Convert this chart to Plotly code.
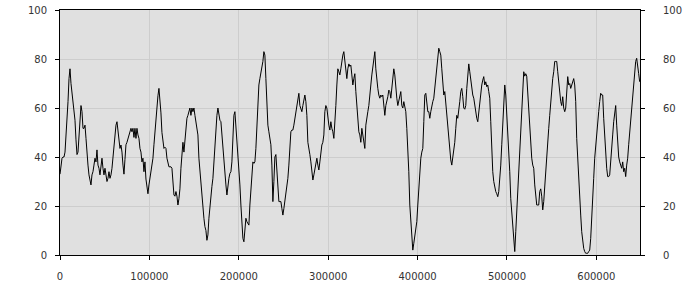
import plotly.graph_objects as go

# sample spacing along the x axis (one reading per ~1118 units)
sample_step = 1118

values = [
    33, 37, 39.5, 40, 40, 42, 47.6, 54, 62.6, 72, 76, 70, 66, 64, 61, 55, 47, 41, 42, 48,
    55, 61, 58.5, 51.7, 51.7, 53, 47.6, 40.8, 36.7, 32.7, 30.6, 28.6, 32.7, 34, 36.7, 39.5, 38, 42.9, 36.7, 35.4,
    32.7, 38, 39.5, 35.4, 32.7, 35.4, 32.7, 30, 31.3, 34, 31.3, 32.7, 35.4, 39.5, 43.5, 50, 53, 54.4, 50.3, 46,
    43.5, 44.9, 42, 36.7, 33, 39, 45, 46, 47.6, 49, 50, 51.7, 50.3, 51.7, 48, 51.7, 47.6, 51.7, 49, 47.6,
    43.5, 42, 38, 39.5, 34, 38, 31, 27, 25, 28.6, 31.3, 34.7, 38, 39.5, 45, 50, 57, 61, 65, 68,
    64, 58, 50, 47, 43.5, 44, 43.5, 39.5, 37.4, 36, 36, 36, 35.4, 28.6, 24.5, 24, 25.9, 24, 20.4, 23,
    27, 35.4, 43.5, 46, 42, 47.6, 51.7, 55.8, 57, 58.5, 60, 57, 60, 58.5, 60, 57, 54.4, 51.7, 49, 39.5,
    34, 28.6, 23, 20.4, 15, 11.6, 10, 6, 8.2, 15, 20.4, 24.5, 28, 31.3, 38, 45, 51.7, 57, 60, 57,
    55, 54.4, 49, 42, 35.4, 34, 28.6, 24.5, 28.6, 31.3, 33.3, 34, 38, 47.6, 57, 58.5, 53, 43.5, 38, 32.7,
    28.6, 20.4, 12.2, 6.8, 5.4, 9.5, 15, 13.6, 13, 12.2, 20.4, 27, 32.7, 38, 37.4, 38, 43.5, 53, 65.3, 69.4,
    72, 74, 76, 79, 83, 81.6, 72, 60, 53, 50.3, 47.6, 45, 36.7, 21.8, 30, 40, 41, 33, 27, 21.8,
    21.8, 21.8, 19, 16.3, 19, 21.8, 24.5, 27, 31.3, 36.7, 43.5, 50.3, 51, 51, 53, 55.8, 58.5, 61, 63.3, 66,
    61, 60, 58.5, 61, 63.3, 65.3, 62.6, 57, 46, 42, 41, 38, 34, 30.6, 32.7, 35.4, 36.7, 39.5, 36.7, 34.7,
    38, 43.5, 44.9, 46, 49, 58.5, 61, 60, 55.8, 53, 51, 54.4, 51.7, 50.3, 47.6, 53, 61, 69.4, 76, 74.8,
    73.5, 76, 79.6, 81.6, 83, 79, 74.8, 72, 76, 78, 77, 77.5, 73.5, 69.4, 72, 74, 66.7, 61, 54.4, 50.3,
    49, 46, 51.7, 49, 45, 43.5, 53, 57, 58.5, 61, 66.7, 69.4, 73.5, 77.5, 81.6, 83, 76, 70.7, 68, 65.3,
    64, 65.3, 64.6, 65.3, 61, 57, 61, 62.6, 64.6, 67.3, 66.7, 64, 68, 72, 76, 73.5, 66.7, 64, 61, 62.6,
    65.3, 66.7, 61, 60, 62.6, 61, 58.5, 51.7, 43.5, 34, 20.4, 12.2, 6.8, 2, 4.8, 7.5, 9.5, 13.6, 20.4, 28.6,
    36.7, 39.5, 42, 43.5, 54.4, 65.3, 66, 61, 58.5, 58.5, 55.8, 58.5, 61, 62.6, 64, 68, 73.5, 77.5, 83, 84.4,
    83, 81.6, 76, 70.7, 65.3, 66.7, 61.6, 58.5, 53, 47.6, 42, 38.8, 36.7, 39.5, 42, 46, 51.7, 57, 55.8, 58.5,
    62.6, 66.7, 68, 64.6, 60, 59.5, 61, 68, 76, 78, 74.8, 70.7, 68, 65.3, 64, 61, 57, 55.8, 54.4, 58.5,
    62.6, 66.7, 69.4, 71.4, 72.8, 69.4, 70.7, 68.7, 69.4, 66.7, 64, 54.4, 42, 34, 30, 27, 25.9, 25, 23.8, 25.9,
    30, 36.7, 45, 55.8, 64, 69.4, 65.3, 58.5, 51.7, 45, 34, 23, 17.7, 12.2, 5.4, 1.4, 9.5, 17.7, 25.9, 35.4,
    45, 50.3, 57, 66.7, 74.8, 73, 74, 73, 66.7, 58.5, 50.3, 45, 39.5, 36.7, 35.4, 28.6, 23, 20.4, 20.4, 20.4,
    25.9, 27, 24, 18.4, 21.8, 27, 32.7, 38, 45, 51.7, 57, 62.6, 68, 72, 74.8, 79, 79, 79, 74.8, 69.4,
    65.3, 62.6, 61, 64.6, 60, 58.5, 60, 66.7, 72.8, 69.4, 70, 68, 69.4, 70.7, 72, 69.4, 62.6, 47.6, 38, 28.6,
    21.8, 16.3, 9.5, 5.4, 2.7, 1.4, 0.7, 0.7, 0.7, 1.4, 2, 6.8, 13.6, 20.4, 31.3, 39.5, 45, 50.3, 54.4, 58.5,
    62.6, 66, 65.3, 65.3, 55.8, 47.6, 40.8, 35.4, 32, 32, 32.7, 39.5, 45, 49, 54.4, 58.5, 61, 53, 46, 40,
    38, 36.7, 35.4, 38, 34, 35.4, 32, 36.7, 39.5, 45, 50.3, 55.8, 60, 64, 68, 73.5, 79, 80.3, 76, 74,
    70.7,
]

x_ticks = [0, 100000, 200000, 300000, 400000, 500000, 600000]
y_ticks = [0, 20, 40, 60, 80, 100]

x_vals = [i * sample_step for i in range(len(values))]

BG = "#e0e0e0"
GRID = "#cdcdcd"
FONT = dict(family="DejaVu Sans", size=10, color="#333333")

fig = go.Figure()
fig.add_trace(go.Scatter(x=x_vals, y=values, mode="lines",
                         line=dict(color="#000000", width=1),
                         hoverinfo="skip", showlegend=False))
fig.add_trace(go.Scatter(x=[x_vals[0]], y=[values[0]], yaxis="y2", mode="lines",
                         line=dict(color="rgba(0,0,0,0)", width=0),
                         hoverinfo="skip", showlegend=False))

fig.update_layout(
    width=700, height=300,
    margin=dict(l=60, r=60, t=10, b=45, autoexpand=False),
    paper_bgcolor="#ffffff",
    plot_bgcolor=BG,
    font=FONT,
    xaxis=dict(range=[0, 648800], tickvals=x_ticks, ticktext=[str(v) for v in x_ticks],
               showgrid=True, gridcolor=GRID, gridwidth=1, zeroline=False,
               ticks="outside", ticklen=4, tickcolor="#000000", tickwidth=1,
               showline=True, linecolor="#000000", linewidth=1, mirror=True,
               ticklabelstandoff=8, tickfont=FONT, automargin=False),
    yaxis=dict(range=[0, 100], tickvals=y_ticks,
               showgrid=True, gridcolor=GRID, gridwidth=1, zeroline=False,
               ticks="outside", ticklen=4, tickcolor="#000000", tickwidth=1,
               showline=True, linecolor="#000000", linewidth=1, mirror=True,
               ticklabelstandoff=6, tickfont=FONT, automargin=False),
    yaxis2=dict(range=[0, 100], tickvals=y_ticks, overlaying="y", side="right",
                showgrid=False, zeroline=False,
                ticks="outside", ticklen=4, tickcolor="#000000", tickwidth=1,
                showline=False, ticklabelstandoff=16, tickfont=FONT, automargin=False),
)

fig.write_html("out.html")
